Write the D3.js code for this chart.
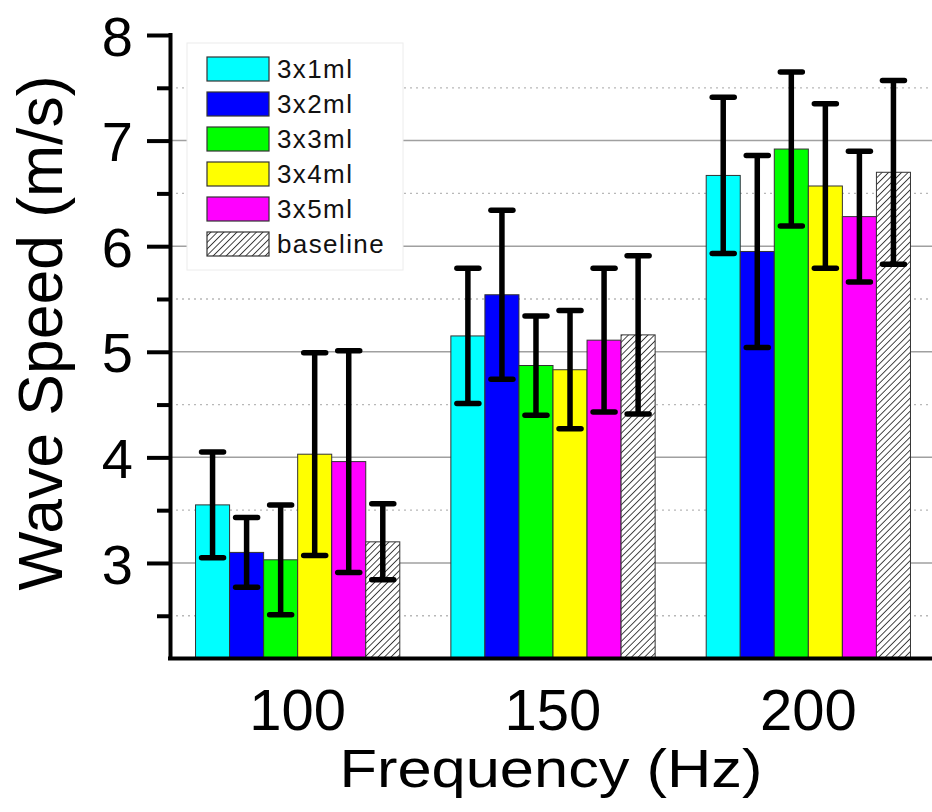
<!DOCTYPE html>
<html>
<head>
<meta charset="utf-8">
<script src="https://cdn.jsdelivr.net/npm/d3@7"></script>
<style>
  html, body { margin: 0; padding: 0; background: #fff; }
  svg { display: block; font-family: "Liberation Sans", Arial, sans-serif; }
</style>
</head>
<body>
<svg id="chart" width="932" height="812"></svg>
<script>
// ---- data ----
const categories = ["100", "150", "200"];
const seriesNames = ["3x1ml", "3x2ml", "3x3ml", "3x4ml", "3x5ml", "baseline"];
const seriesColors = ["#00FFFF", "#0000FF", "#00FF00", "#FFFF00", "#FF00FF", "url(#hatch)"];
const mean3x1 = [3.55, 5.15, 6.67];
const mean3x2 = [3.10, 5.54, 5.95];
const mean3x3 = [3.03, 4.87, 6.92];
const mean3x4 = [4.03, 4.83, 6.57];
const mean3x5 = [3.96, 5.11, 6.28];
const meanBase = [3.20, 5.16, 6.70];
const err3x1 = [0.50, 0.64, 0.74];
const err3x2 = [0.33, 0.80, 0.91];
const err3x3 = [0.52, 0.47, 0.73];
const err3x4 = [0.96, 0.56, 0.78];
const err3x5 = [1.05, 0.68, 0.62];
const errBase = [0.36, 0.75, 0.87];
const majorTicks = [3, 4, 5, 6, 7, 8];
const minorTicks = [2.5, 3.5, 4.5, 5.5, 6.5, 7.5];
const gridMajor = [3, 4, 5, 6, 7];
const xTitle = "Frequency (Hz)";
const yTitle = "Wave Speed (m/s)";

(function () {
const means = [mean3x1, mean3x2, mean3x3, mean3x4, mean3x5, meanBase];
const errs = [err3x1, err3x2, err3x3, err3x4, err3x5, errBase];

const rows = [];
seriesNames.forEach((s, si) => {
  categories.forEach((c, ci) => {
    rows.push({ series: s, si, cat: c, v: means[si][ci], e: errs[si][ci] });
  });
});

// ---- layout ----
const svg = d3.select("#chart");
const pLeft = 170, pBottom = 658, pTop = 35, pRight = 932;

const defs = svg.append("defs");
const pat = defs.append("pattern")
  .attr("id", "hatch")
  .attr("patternUnits", "userSpaceOnUse")
  .attr("width", 4.6).attr("height", 4.6)
  .attr("patternTransform", "rotate(45)");
pat.append("rect").attr("width", 4.6).attr("height", 4.6).attr("fill", "#fff");
pat.append("line").attr("x1", 0).attr("y1", 0).attr("x2", 0).attr("y2", 4.6)
  .attr("stroke", "#333").attr("stroke-width", 1.8);

const y = d3.scaleLinear().domain([2.1, 8]).range([pBottom, pTop]);
const x = d3.scaleBand().domain(categories).range([pLeft, 936])
  .paddingInner(0.2).paddingOuter(0.1);
const xs = d3.scaleBand().domain(seriesNames).range([0, x.bandwidth()]);

// grid
svg.append("g").selectAll("line").data(minorTicks).join("line")
  .attr("x1", pLeft).attr("x2", pRight)
  .attr("y1", d => y(d)).attr("y2", d => y(d))
  .attr("stroke", "#b8b8b8").attr("stroke-width", 1.3)
  .attr("stroke-dasharray", "2,4");
svg.append("g").selectAll("line").data(gridMajor).join("line")
  .attr("x1", pLeft).attr("x2", pRight)
  .attr("y1", d => y(d)).attr("y2", d => y(d))
  .attr("stroke", "#a0a0a0").attr("stroke-width", 1.5);

// legend box (covers grid)
const lg = svg.append("g");
lg.append("rect").attr("x", 187).attr("y", 43).attr("width", 216).attr("height", 227)
  .attr("fill", "#fff").attr("stroke", "#ececec").attr("stroke-width", 1);
seriesNames.forEach((s, i) => {
  const yy = 57 + i * 35;
  lg.append("rect").attr("x", 207).attr("y", yy).attr("width", 62).attr("height", 24)
    .attr("fill", seriesColors[i]).attr("stroke", "#333").attr("stroke-width", 1.2);
  lg.append("text").attr("x", 277).attr("y", yy + 21)
    .attr("font-size", 26).attr("letter-spacing", 1.4).attr("fill", "#111")
    .text(s);
});

// bars
svg.append("g").selectAll("rect").data(rows).join("rect")
  .attr("x", d => x(d.cat) + xs(d.series))
  .attr("width", xs.bandwidth())
  .attr("y", d => y(d.v))
  .attr("height", d => pBottom - y(d.v))
  .attr("fill", d => seriesColors[d.si])
  .attr("stroke", "#333").attr("stroke-width", 1);

// error bars
const eb = svg.append("g").attr("stroke", "#000").attr("stroke-width", 5.5).attr("stroke-linecap", "round");
rows.forEach(d => {
  const cx = x(d.cat) + xs(d.series) + xs.bandwidth() / 2;
  eb.append("line").attr("x1", cx).attr("x2", cx)
    .attr("y1", y(d.v + d.e)).attr("y2", y(d.v - d.e)).attr("stroke-linecap", "butt");
  [d.v + d.e, d.v - d.e].forEach(v => {
    eb.append("line").attr("x1", cx - 11).attr("x2", cx + 11)
      .attr("y1", y(v)).attr("y2", y(v));
  });
});

// y axis
const yAxis = svg.append("g").attr("transform", `translate(${pLeft},0)`)
  .call(d3.axisLeft(y).tickValues(majorTicks).tickFormat(d3.format("d"))
    .tickSize(23).tickSizeOuter(0).tickPadding(14));
yAxis.select(".domain").attr("stroke", "#000").attr("stroke-width", 4)
  .attr("d", `M0.5,${pTop - 2}V${pBottom}`);
yAxis.selectAll(".tick line").attr("stroke", "#000").attr("stroke-width", 4);
yAxis.selectAll(".tick text")
  .attr("font-family", "Liberation Sans, Arial, sans-serif")
  .attr("font-size", 56).attr("fill", "#000")
  .attr("dy", "0.36em");
const yMinor = svg.append("g").attr("transform", `translate(${pLeft},0)`)
  .call(d3.axisLeft(y).tickValues(minorTicks).tickSize(13).tickSizeOuter(0).tickFormat(""));
yMinor.select(".domain").remove();
yMinor.selectAll(".tick line").attr("stroke", "#000").attr("stroke-width", 4);

// x axis
const xAxis = svg.append("g").attr("transform", `translate(0,${pBottom})`)
  .call(d3.axisBottom(x).tickSize(0).tickSizeOuter(0));
xAxis.select(".domain").attr("stroke", "#000").attr("stroke-width", 4)
  .attr("d", `M${pLeft - 2},0.5H${pRight}`);
xAxis.selectAll(".tick text")
  .attr("font-family", "Liberation Sans, Arial, sans-serif")
  .attr("font-size", 58).attr("fill", "#000")
  .attr("y", 72).attr("dy", 0);

// titles
svg.append("text").attr("x", 551).attr("y", 787)
  .attr("text-anchor", "middle").attr("font-size", 54).attr("fill", "#000")
  .attr("textLength", 423).attr("lengthAdjust", "spacingAndGlyphs")
  .text(xTitle);
svg.append("text").attr("transform", "translate(62,333) rotate(-90)")
  .attr("text-anchor", "middle").attr("font-size", 63).attr("fill", "#000")
  .attr("textLength", 515).attr("lengthAdjust", "spacingAndGlyphs")
  .text(yTitle);
})();
</script>
</body>
</html>
